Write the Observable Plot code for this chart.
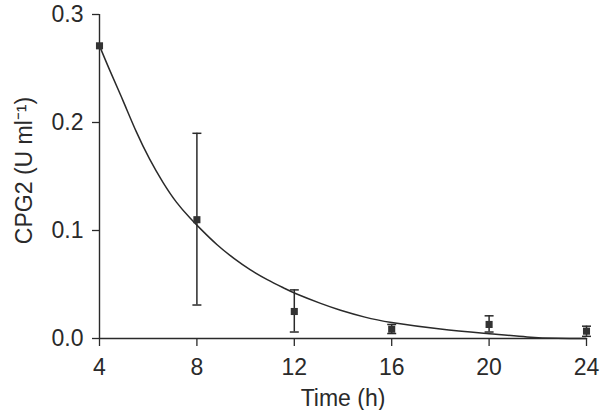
<!DOCTYPE html>
<html>
<head>
<meta charset="utf-8">
<script src="https://cdn.jsdelivr.net/npm/d3@7"></script>
<script src="https://cdn.jsdelivr.net/npm/@observablehq/plot@0.6"></script>
<style>
  html, body { margin: 0; padding: 0; background: #fff; }
  #chart svg { display: block; }
</style>
</head>
<body>
<div id="chart"></div>
<script>
// Measured points (time in h, CPG2 in U/ml)
const times = [4, 8, 12, 16, 20, 24];
const means = [0.271, 0.110, 0.025, 0.0086, 0.013, 0.0068];
const errLow = [0.271, 0.031, 0.006, 0.0046, 0.006, 0.002];
const errHigh = [0.271, 0.190, 0.045, 0.013, 0.021, 0.0114];

// Fitted curve
const curveT = [4, 4.41, 4.96, 5.51, 6.06, 6.6, 7.15, 7.7, 8.15, 8.83, 9.52, 10.2, 10.89, 11.57, 12.1, 13.08, 13.9, 14.9, 16.0, 18.0, 20.0, 21.56, 22.8, 24];
const curveY = [0.271, 0.249, 0.2205, 0.1915, 0.166, 0.1448, 0.1265, 0.112, 0.1015, 0.0868, 0.0742, 0.0635, 0.0545, 0.0467, 0.0412, 0.0325, 0.0262, 0.0198, 0.0148, 0.0088, 0.0045, 0.0015, 0.0002, 0.0];

const xTicks = [4, 8, 12, 16, 20, 24];
const yTicks = [0, 0.1, 0.2, 0.3];
const xLabel = "Time (h)";
const yLabel = "CPG2 (U ml\u207B\u00B9)";

const points = times.map((t, i) => ({t, y: means[i], lo: errLow[i], hi: errHigh[i]}));
const bars = points.filter(d => d.hi > d.lo + 1e-9);
const curve = curveT.map((t, i) => ({t, y: curveY[i]}));

const capSymbol = {
  draw(context, size) {
    const w = 4.5;
    context.moveTo(-w, 0);
    context.lineTo(w, 0);
  }
};

const ink = "#2a2a2a";
const fs = 23;

const chart = Plot.plot({
  width: 600,
  height: 410,
  marginLeft: 99,
  marginRight: 14,
  marginTop: 14,
  marginBottom: 72,
  style: {fontFamily: "'Liberation Sans', Arial, Helvetica, sans-serif", fontSize: fs + "px", color: ink, background: "#fff"},
  x: {domain: [4, 24], ticks: xTicks, label: null},
  y: {domain: [0, 0.3], ticks: yTicks, label: null, tickFormat: d3.format(".1f")},
  marks: [
    Plot.axisX({ticks: xTicks, tickSize: 8, tickPadding: 12, fontSize: fs, label: null, stroke: ink, strokeWidth: 1.3}),
    Plot.axisY({ticks: yTicks, tickSize: 7, tickPadding: 9, fontSize: fs, label: null, tickFormat: d3.format(".1f"), stroke: ink, strokeWidth: 1.3}),
    Plot.ruleX([4], {stroke: ink, strokeWidth: 1.4}),
    Plot.ruleY([0], {stroke: ink, strokeWidth: 1.4}),
    Plot.line(curve, {x: "t", y: "y", curve: "natural", stroke: ink, strokeWidth: 1.5}),
    Plot.ruleX(bars, {x: "t", y1: "lo", y2: "hi", stroke: ink, strokeWidth: 1.5}),
    Plot.dot(bars, {x: "t", y: "lo", symbol: capSymbol, stroke: ink, strokeWidth: 1.5, r: 4}),
    Plot.dot(bars, {x: "t", y: "hi", symbol: capSymbol, stroke: ink, strokeWidth: 1.5, r: 4}),
    Plot.dot(points, {x: "t", y: "y", symbol: "square", fill: "#333", stroke: "none", r: 4}),
    Plot.text([yLabel], {frameAnchor: "left", textAnchor: "middle", lineAnchor: "middle", dx: -75, dy: -6, rotate: -90, fontSize: fs, fill: ink}),
    Plot.text([xLabel], {frameAnchor: "bottom", textAnchor: "middle", lineAnchor: "middle", dy: 60, fontSize: fs, fill: ink})
  ]
});
document.getElementById("chart").appendChild(chart);
</script>
</body>
</html>
